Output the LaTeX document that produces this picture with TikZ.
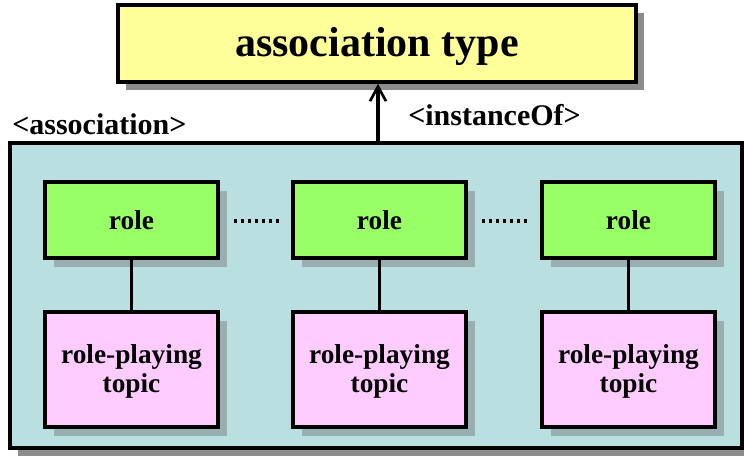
\documentclass[tikz,border=0pt]{standalone}
\usepackage{fontspec}
\setmainfont{Liberation Serif}
\usetikzlibrary{shadows,arrows.meta}
\definecolor{typeyellow}{HTML}{FFFF99}
\definecolor{rolegreen}{HTML}{99FF66}
\definecolor{topicpink}{HTML}{FFCCFF}
\definecolor{assocblue}{HTML}{B9DFE1}
\definecolor{shadowgray}{HTML}{8C8C8C}
\definecolor{innershadow}{HTML}{99AEB0}
% text placed with its baseline #1 below the node centre, taking no room
\newcommand{\basedown}[2]{\raisebox{-#1}[0pt][0pt]{#2}}
\newcommand{\twolines}[2]{\raisebox{4.7pt}[0pt][0pt]{\begin{tabular}[t]{@{}c@{}}#1\\#2\end{tabular}}}
\begin{document}
\begin{tikzpicture}[x=0.75pt,y=-0.75pt,
  box/.style={draw=black,line width=2.6pt,inner sep=0pt,
    font=\bfseries\fontsize{20.5}{22}\selectfont},
  outershadow/.style={general shadow={fill=shadowgray,shadow xshift=6pt,shadow yshift=-6pt}},
  innershadowed/.style={general shadow={fill=innershadow,shadow xshift=6.5pt,shadow yshift=-6.5pt}},
  typebox/.style={box,fill=typeyellow,outershadow,minimum width=518*0.75pt,minimum height=77*0.75pt,
    font=\bfseries\fontsize{31.5}{34}\selectfont},
  assocbox/.style={box,fill=assocblue,outershadow,minimum width=732*0.75pt,minimum height=305*0.75pt},
  rolebox/.style={box,fill=rolegreen,innershadowed,minimum width=173*0.75pt,minimum height=76*0.75pt},
  topicbox/.style={box,fill=topicpink,innershadowed,minimum width=173*0.75pt,minimum height=115*0.75pt},
  lbl/.style={inner sep=0pt,font=\bfseries\fontsize{22.5}{24}\selectfont},
  link/.style={line width=2.6pt},
  ellipsis/.style={line width=2.8pt,dash pattern=on 2.2pt off 3pt}
]
\useasboundingbox (0,0) rectangle (744,457);

% type of the association
\node[typebox] (type) at (377,43.5) {\basedown{9.9pt}{association type}};

% the association and its members
\node[assocbox] (assoc) at (376,295.5) {};
\node[lbl,anchor=base west] (alab) at (12,134.3) {<association>};

\foreach \i/\x in {1/131.5,2/379.5,3/628.5}{
  \node[rolebox] (role\i) at (\x,220) {\basedown{6.75pt}{role}};
  \node[topicbox] (topic\i) at (\x,369.5) {\twolines{role-playing}{topic}};
  \draw[link] (role\i) -- (topic\i);
}

% ellipses between the roles
\coordinate (d1a) at (234,221);
\coordinate (d1b) at (281,221);
\coordinate (d2a) at (482,221);
\coordinate (d2b) at (529,221);
\draw[ellipsis] (d1a) -- (d1b);
\draw[ellipsis] (d2a) -- (d2b);

% instanceOf link
\draw[link,-{Straight Barb[length=11pt,width=12pt,line width=2pt]}] (assoc.north -| 378,0) -- (type.south -| 378,0);
\node[lbl,anchor=base west] (ilab) at (408,125.7) {<instanceOf>};
\end{tikzpicture}
\end{document}
